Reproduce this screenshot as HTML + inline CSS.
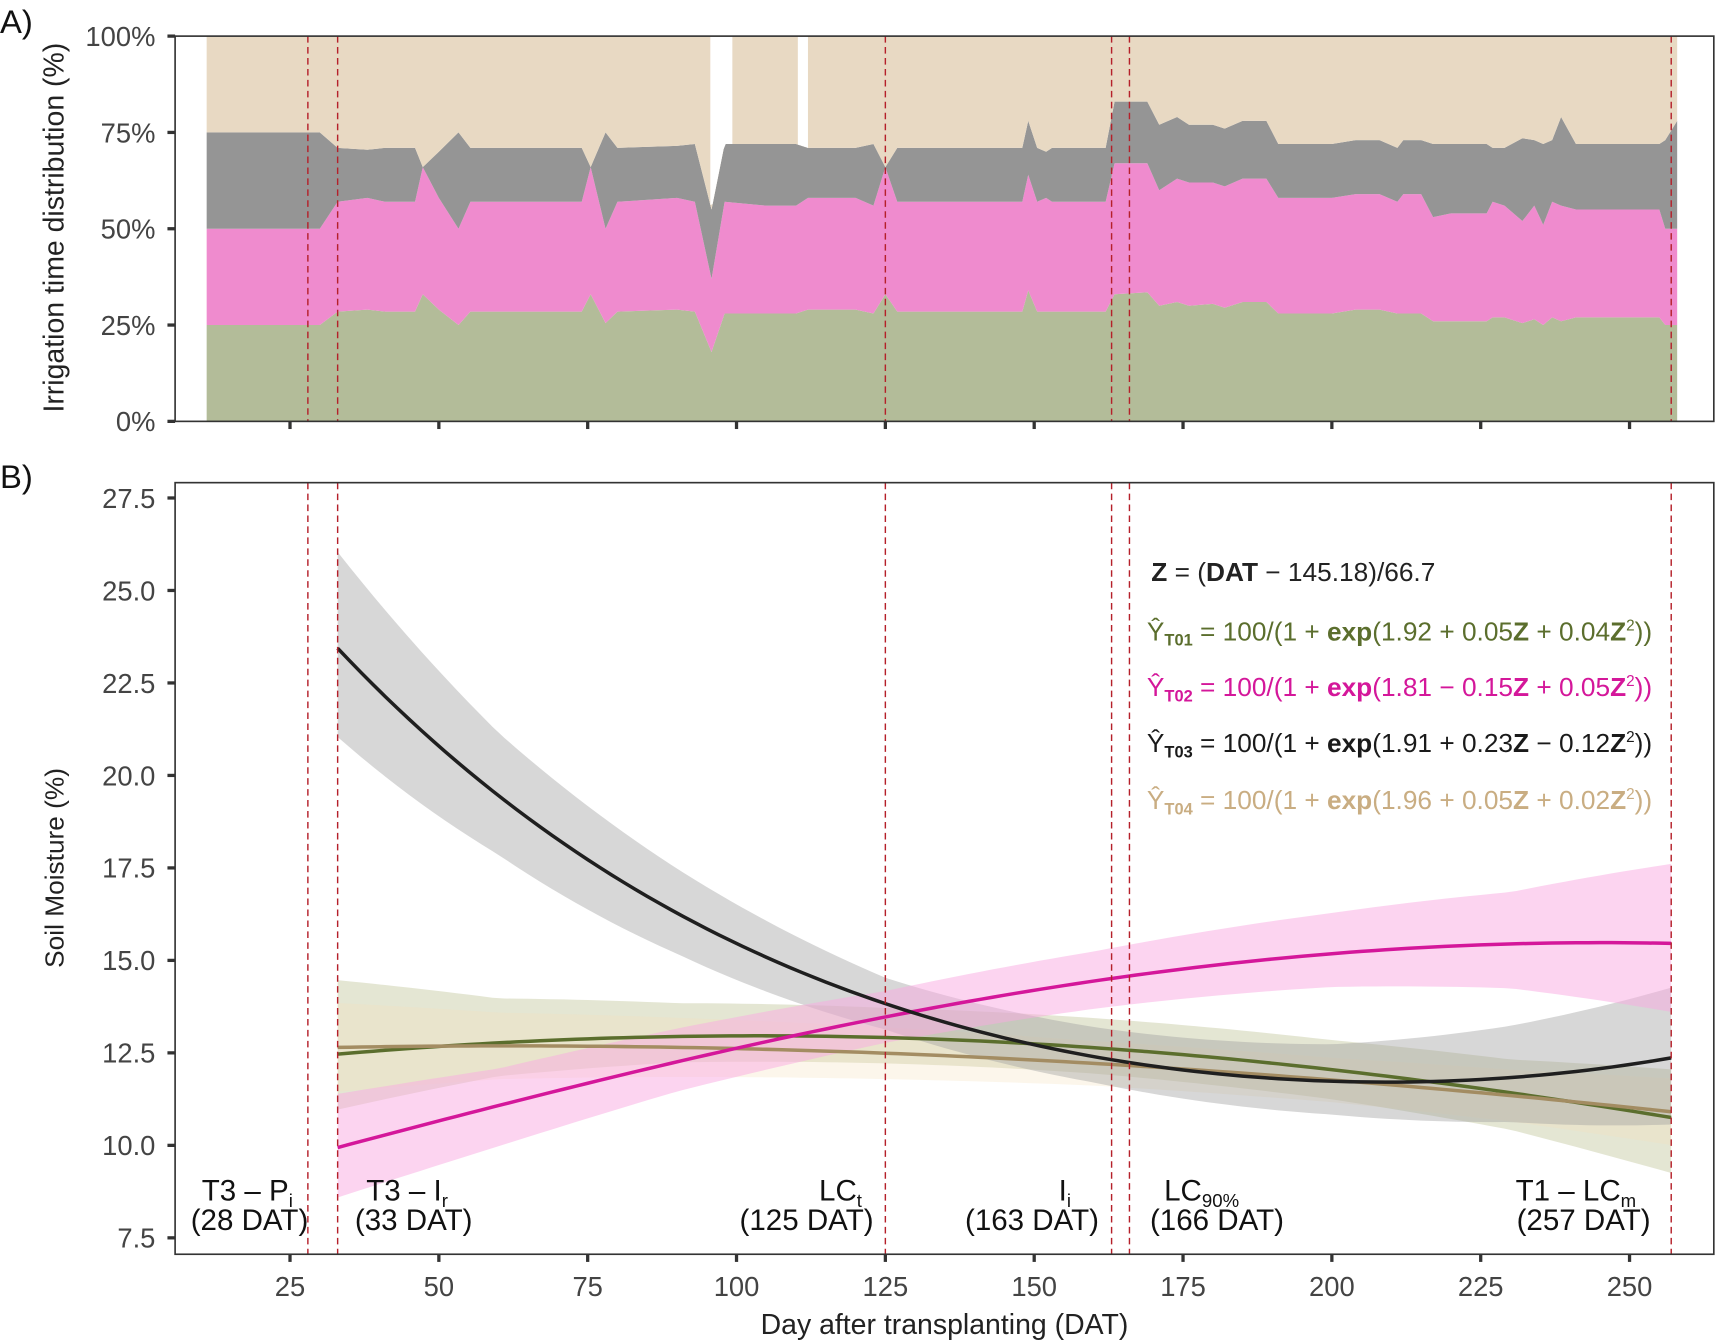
<!DOCTYPE html>
<html><head><meta charset="utf-8"><style>
html,body{margin:0;padding:0;background:#fff;}
svg{display:block;font-family:"Liberation Sans",sans-serif;}
</style></head><body>
<svg id="chart" xmlns="http://www.w3.org/2000/svg" width="1716" height="1344" viewBox="0 0 1568 1228" preserveAspectRatio="none">
<g id="panelA"></g>
<g id="panelB"></g>
<text x="0" y="30" font-size="30" fill="#111">A)</text>
<text x="0" y="446" font-size="30" fill="#111">B)</text>
<text transform="translate(58,208) rotate(-90)" text-anchor="middle" font-size="26" fill="#222">Irrigation time distribution (%)</text>
<text transform="translate(58,793) rotate(-90)" text-anchor="middle" font-size="24" fill="#222">Soil Moisture (%)</text>
<text x="863" y="1219" text-anchor="middle" font-size="26" fill="#222">Day after transplanting (DAT)</text>
<g font-size="24">
<text x="1052" y="531" fill="#222"><tspan font-weight="bold">Z</tspan> = (<tspan font-weight="bold">DAT</tspan> − 145.18)/66.7</text>
<text x="1048" y="585" fill="#5b6e2d">Ŷ<tspan font-size="15" dy="5" font-weight="bold">T01</tspan><tspan dy="-5"> = 100/(1 + </tspan><tspan font-weight="bold">exp</tspan>(1.92 + 0.05<tspan font-weight="bold">Z</tspan> + 0.04<tspan font-weight="bold">Z</tspan><tspan font-size="14" dy="-9">2</tspan><tspan dy="9">))</tspan></text>
<text x="1048" y="636" fill="#d4179a">Ŷ<tspan font-size="15" dy="5" font-weight="bold">T02</tspan><tspan dy="-5"> = 100/(1 + </tspan><tspan font-weight="bold">exp</tspan>(1.81 − 0.15<tspan font-weight="bold">Z</tspan> + 0.05<tspan font-weight="bold">Z</tspan><tspan font-size="14" dy="-9">2</tspan><tspan dy="9">))</tspan></text>
<text x="1048" y="687" fill="#1a1a1a">Ŷ<tspan font-size="15" dy="5" font-weight="bold">T03</tspan><tspan dy="-5"> = 100/(1 + </tspan><tspan font-weight="bold">exp</tspan>(1.91 + 0.23<tspan font-weight="bold">Z</tspan> − 0.12<tspan font-weight="bold">Z</tspan><tspan font-size="14" dy="-9">2</tspan><tspan dy="9">))</tspan></text>
<text x="1048" y="739" fill="#c9ad82">Ŷ<tspan font-size="15" dy="5" font-weight="bold">T04</tspan><tspan dy="-5"> = 100/(1 + </tspan><tspan font-weight="bold">exp</tspan>(1.96 + 0.05<tspan font-weight="bold">Z</tspan> + 0.02<tspan font-weight="bold">Z</tspan><tspan font-size="14" dy="-9">2</tspan><tspan dy="9">))</tspan></text>
</g>
<g font-size="27" fill="#111" text-anchor="middle">
<text x="226" y="1097">T3 – P<tspan font-size="17" dy="6">i</tspan></text>
<text x="228" y="1124">(28 DAT)</text>
<text x="372" y="1097">T3 – I<tspan font-size="17" dy="6">r</tspan></text>
<text x="378" y="1124">(33 DAT)</text>
<text x="768" y="1097">LC<tspan font-size="17" dy="6">t</tspan></text>
<text x="737" y="1124">(125 DAT)</text>
<text x="973" y="1097">I<tspan font-size="17" dy="6">i</tspan></text>
<text x="943" y="1124">(163 DAT)</text>
<text x="1098" y="1097">LC<tspan font-size="17" dy="6">90%</tspan></text>
<text x="1112" y="1124">(166 DAT)</text>
<text x="1440" y="1097">T1 – LC<tspan font-size="17" dy="6">m</tspan></text>
<text x="1447" y="1124">(257 DAT)</text>
</g>
</svg>
<script>
// ---------- Panel A data (DAT, cumulative % tops) ----------
const aDays  = [11,28,30,33,38,41,46,47.3,50,53.3,55.3,74,75.5,78,80,90,93,95.8,98,105,110,112,120,123,125,127,148,149,150.5,152,153,162,163.5,169,171,174,176,180,182,185,189,191,200,204,208,211,212,215,217,220,226,227,229,232,234,235.5,237,238.5,241,255,256,258];
const aT01   = [25,25,25,28.5,29,28.5,28.5,33,29,25,28.5,28.5,33,25.5,28.5,29,28.5,18,28,28,28,29,29,28,33,28.5,28.5,34,28.5,28.5,28.5,28.5,33,33.5,30,31,30,30.5,29.5,31,31,28,28,29,29,28,28,28,26,26,26,27,27,25.5,26.5,25,27,26,27,27,25,25];
const aT02   = [50,50,50,57,58,57,57,66,58,50,57,57,66,50,57,58,57,37,57,56,56,58,58,56,66,57,57,64,57,58,57,57,67,67,60,63,62,62,61,63,63,58,58,59,59,57,59,59,53,54,54,57,56,52,56,51,57,56,55,55,50,50];
const aT03   = [75,75,75,71,70.5,71,71,66,70,75,71,71,66,75,71,71.5,72,55,72,72,72,71,71,72,66,71,71,78,71,70,71,71,83,83,77,79,77,77,76,78,78,72,72,73,73,71,73,73,72,72,72,71,71,73.5,73,72,73,79,72,72,73,78];
const aGaps  = [[95.6,99.3],[110.3,112]];
// ---------- Panel B data ----------
const seriesNames = ['T01','T02','T03','T04'];
const coefA = [1.92,1.81,1.91,1.96];
const coefB = [0.05,-0.15,0.23,0.05];
const coefC = [0.04,0.05,-0.12,0.02];
const bandDays = [33,60,90,125,160,200,230,257];
const lowT01 = [1.5,0.9,0.7,0.7,0.7,0.8,1.0,1.5];
const upT01  = [2.0,1.2,0.9,0.8,0.8,0.8,0.9,1.3];
const lowT02 = [1.35,1.1,0.8,0.7,0.75,0.9,1.2,1.85];
const upT02  = [1.45,1.0,0.9,0.7,0.8,1.1,1.4,2.15];
const lowT03 = [2.4,1.6,1.1,0.7,0.7,0.9,1.2,1.8];
const upT03  = [2.6,1.7,1.2,0.7,0.8,1.0,1.4,1.9];
const lowT04 = [1.2,0.9,0.8,0.7,0.6,0.6,0.7,0.9];
const upT04  = [1.2,0.9,0.8,0.7,0.6,0.6,0.7,0.9];
const yTicksA = [0,25,50,75,100];
const yTicksB = [7.5,10,12.5,15,17.5,20,22.5,25,27.5];
const xTicks  = [25,50,75,100,125,150,175,200,225,250];
const eventDays = [28,33,125,163,166,257];

const NS='http://www.w3.org/2000/svg';
const L=160,R=1566,AT=33,AB=385,BT=441,BB=1146;
const xs=d=>129+(d)*5.44;
const ya=p=>AB-(p)*3.52;
const yb=v=>1131-(v-7.5)*(1131-455)/20;
function mk(tag,attrs,parent){const e=document.createElementNS(NS,tag);for(const k in attrs)e.setAttribute(k,attrs[k]);parent.appendChild(e);return e;}
const gA=document.getElementById('panelA'), gB=document.getElementById('panelB');

function layerPath(lo,hi){let s='';for(let i=0;i<aDays.length;i++)s+=(i?'L':'M')+xs(aDays[i])+','+ya(hi[i]);for(let i=aDays.length-1;i>=0;i--)s+='L'+xs(aDays[i])+','+ya(lo?lo[i]:0);return s+'Z';}
const hundred=aDays.map(()=>100);
const layers=[[null,aT01,'#b3bc99','layer-t01'],[aT01,aT02,'#ef8bce','layer-t02'],[aT02,aT03,'#959595','layer-t03'],[aT03,hundred,'#e8d9c3','layer-t04']];
layers.forEach(l=>{const p=mk('path',{d:layerPath(l[0],l[1]),fill:l[2]},gA);

});
function interp(days,vals,d){if(d<=days[0])return vals[0];for(let i=1;i<days.length;i++){if(d<=days[i]){const t=(d-days[i-1])/(days[i]-days[i-1]);return vals[i-1]+t*(vals[i]-vals[i-1]);}}return vals[vals.length-1];}
aGaps.forEach(g=>{let s='M'+xs(g[0])+','+ya(100)+'L'+xs(g[1])+','+ya(100);
for(let k=0;k<=10;k++){const d=g[1]-(g[1]-g[0])*k/10;s+='L'+xs(d)+','+ya(interp(aDays,aT03,d));}
const p=mk('path',{d:s+'Z',fill:'#fff'},gA);

});

const bandCols=['rgba(190,195,150,0.42)','rgba(250,170,225,0.5)','rgba(160,160,160,0.42)','rgba(245,225,190,0.3)'];
const lineCols=['#5b6e2d','#d4179a','#1f1f1f','#a38c62'];
const lows=[lowT01,lowT02,lowT03,lowT04], ups=[upT01,upT02,upT03,upT04];
function model(i,d){const z=(d-145.18)/66.7;return 100/(1+Math.exp(coefA[i]+coefB[i]*z+coefC[i]*z*z));}
const drawOrder=[0,3,2,1];
drawOrder.forEach(i=>{let s='';const n=112;
for(let k=0;k<=n;k++){const d=33+224*k/n;s+=(k?'L':'M')+xs(d)+','+yb(model(i,d)+interp(bandDays,ups[i],d));}
for(let k=n;k>=0;k--){const d=33+224*k/n;s+='L'+xs(d)+','+yb(model(i,d)-interp(bandDays,lows[i],d));}
const p=mk('path',{d:s+'Z',fill:bandCols[i]},gB);

});
[0,3,1,2].forEach(i=>{let s='';for(let k=0;k<=112;k++){const d=33+224*k/112;s+=(k?'L':'M')+xs(d)+','+yb(model(i,d));}
const p=mk('path',{d:s,fill:'none',stroke:lineCols[i],'stroke-width':3.2},gB);

});

[[gA,AT,AB],[gB,BT,BB]].forEach(([g,t,b])=>eventDays.forEach(d=>{const l=mk('line',{x1:xs(d),x2:xs(d),y1:t,y2:b,stroke:'#b5202a','stroke-width':1.3,'stroke-dasharray':'6 4'},g);

}));

[[gA,AT,AB],[gB,BT,BB]].forEach(([g,t,b],pi)=>{const f=mk('rect',{x:L,y:t,width:R-L,height:b-t,fill:'none',stroke:'#333','stroke-width':1.5},g);


xTicks.forEach(v=>{const tk=mk('line',{x1:xs(v),x2:xs(v),y1:b,y2:b+7,stroke:'#333','stroke-width':3},g);


if(pi===1){const tx=mk('text',{x:xs(v),y:b+38,'text-anchor':'middle','font-size':25,fill:'#444'},g);tx.textContent=v;

}});});
yTicksA.forEach(v=>{const tk=mk('line',{x1:L-7,x2:L,y1:ya(v),y2:ya(v),stroke:'#333','stroke-width':3},gA);


const tx=mk('text',{x:L-18,y:ya(v)+9,'text-anchor':'end','font-size':25,fill:'#444'},gA);tx.textContent=v+'%';

});
yTicksB.forEach(v=>{const tk=mk('line',{x1:L-7,x2:L,y1:yb(v),y2:yb(v),stroke:'#333','stroke-width':3},gB);


const tx=mk('text',{x:L-18,y:yb(v)+9,'text-anchor':'end','font-size':25,fill:'#444'},gB);tx.textContent=v.toFixed(1);

});
</script>
</body></html>
